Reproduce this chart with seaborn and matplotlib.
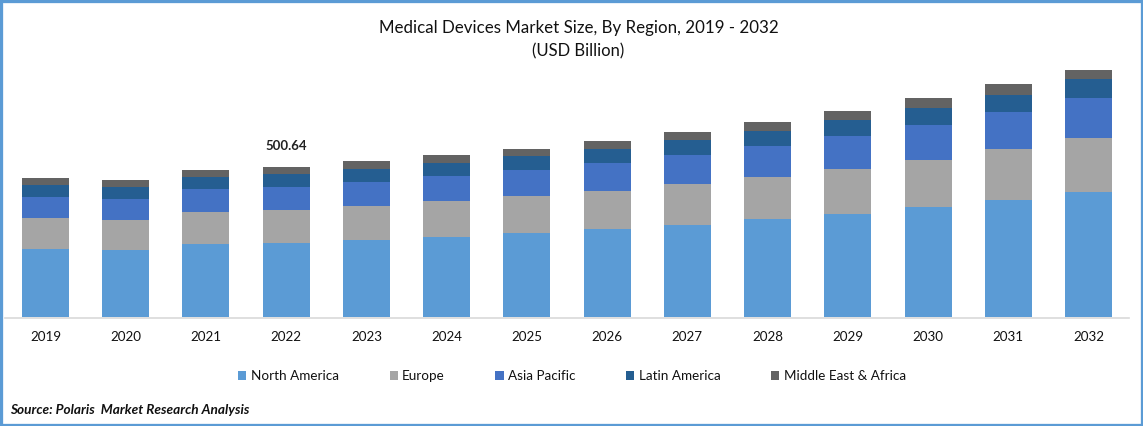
import pandas as pd
import matplotlib
matplotlib.use("Agg")
import matplotlib.pyplot as plt
import seaborn as sns
from matplotlib.patches import Rectangle

# valores en USD Billion (2022 = 500.64)
years = list(range(2019, 2033))
north_america = [227, 224, 244, 247, 257, 267, 280, 294, 307, 327, 344, 367, 391, 417]
europe = [103, 100, 107, 110, 113, 120, 123, 127, 137, 140, 150, 157, 170, 180]
asia_pacific = [70, 70, 77, 77, 80, 83, 87, 93, 97, 103, 110, 117, 123, 133]
latin_america = [40, 40, 40, 43, 43, 43, 47, 47, 50, 50, 53, 57, 57, 63]
middle_east = [23, 23, 23, 23.64, 27, 27, 23, 27, 27, 30, 30, 33, 37, 33]

regions = ["North America", "Europe", "Asia Pacific", "Latin America", "Middle East & Africa"]
series = [north_america, europe, asia_pacific, latin_america, middle_east]
colores = ["#5B9BD5", "#A5A5A5", "#4472C4", "#255E91", "#636363"]
frame_color = "#5B9BD5"

sns.set_theme(style="white")
plt.rcParams["font.family"] = ["Lato", "DejaVu Sans"]

W, H = 1143, 426
fig = plt.figure(figsize=(W / 100, H / 100), dpi=100)
ax = fig.add_axes([5.4 / W, 1 - 317 / H, 1123.2 / W, 270 / H])

bottom = [0] * len(years)
for region, vals, col in zip(regions, series, colores):
    df = pd.DataFrame({"year": years, "value": vals})
    sns.barplot(data=df, x="year", y="value", color=col, saturation=1, width=0.586,
                bottom=bottom, ax=ax, label=region, linewidth=0)
    bottom = [b + v for b, v in zip(bottom, vals)]

ax.set_xlim(-0.5, 13.5)
ax.set_ylim(0, 270 * 500.64 / 150)
ax.set_xlabel("")
ax.set_ylabel("")
ax.set_yticks([])
ax.tick_params(axis="x", length=0, pad=9.5, labelsize=9.6, colors="#111111")
sns.despine(ax=ax, left=True)
ax.spines["bottom"].set_color("#D9D9D9")
ax.spines["bottom"].set_linewidth(1.2)
ax.spines["bottom"].set_position(("outward", 0.5))

ax.annotate("500.64", (3, bottom[3]), xytext=(0, 15), textcoords="offset points",
            ha="center", va="center", fontsize=9.5, fontweight="bold", color="#222222")

fig.text(579 / W, 1 - 28 / H, "Medical Devices Market Size, By Region, 2019 - 2032",
         ha="center", va="center", fontsize=12.2, color="#111111")
fig.text(578 / W, 1 - 51 / H, "(USD Billion)", ha="center", va="center", fontsize=12, color="#111111")

leg = ax.legend(loc="center", bbox_to_anchor=(572 / W, 1 - 376 / H), bbox_transform=fig.transFigure,
                ncol=5, frameon=False, fontsize=9.7, handlelength=0.6, handleheight=0.6,
                handletextpad=0.32, columnspacing=3.77, labelcolor="#111111")

fig.text(10 / W, 1 - 410 / H, "Source: Polaris  Market Research Analysis", ha="left", va="center",
         fontsize=9.8, fontweight="bold", fontstyle="italic", color="#111111")

# marco azul alrededor de la figura
fig.add_artist(Rectangle((0, 0), 1, 1, transform=fig.transFigure, fill=False,
                         edgecolor=frame_color, linewidth=3.8, joinstyle="miter"))

fig.savefig("out.png", dpi=100)
